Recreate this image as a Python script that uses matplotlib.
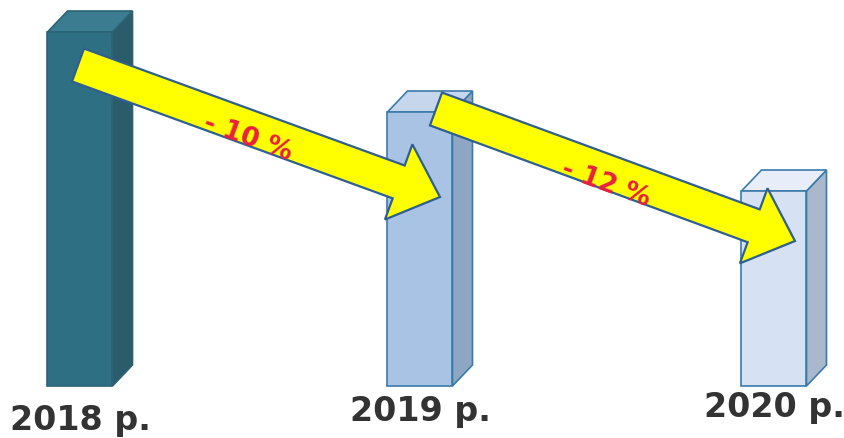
import matplotlib
matplotlib.use("Agg")
import matplotlib.pyplot as plt
from matplotlib.patches import Polygon, FancyArrow

# data (bar heights in px-like units, baseline at 0)
years = ["2018 p.", "2019 p.", "2020 p."]
values = [354, 274, 195]
changes = ["- 10 %", "- 12 %"]

positions = [80, 420, 774]
bar_width = 65
depth = (20, 21)  # oblique offset of the 3D box

front_colors = ["#2f6f84", "#a9c3e4", "#d6e2f4"]
side_colors = ["#2a5c6c", "#8da6c3", "#a9b8cb"]
top_colors = ["#3c7c90", "#c5d6ed", "#e7eef9"]
edge_colors = ["#2a6376", "#3b7bab", "#3b7bab"]

fig = plt.figure(figsize=(8.45, 4.39), dpi=100)
ax = fig.add_axes([0, 0, 1, 1])
ax.set_xlim(0, 845)
ax.set_ylim(-52, 387)
ax.axis("off")

bars = ax.bar(positions, values, width=bar_width, color=front_colors,
              edgecolor=edge_colors, linewidth=1.2, zorder=3)

dx, dy = depth
for b, sc, tc, ec in zip(bars, side_colors, top_colors, edge_colors):
    x0, w, h = b.get_x(), b.get_width(), b.get_height()
    x1 = x0 + w
    side = Polygon([(x1, 0), (x1 + dx, dy), (x1 + dx, h + dy), (x1, h)],
                   closed=True, fc=sc, ec=ec, lw=1.2, zorder=2)
    top = Polygon([(x0, h), (x0 + dx, h + dy), (x1 + dx, h + dy), (x1, h)],
                  closed=True, fc=tc, ec=ec, lw=1.2, zorder=2)
    ax.add_patch(side)
    ax.add_patch(top)

# year labels under the bars
label_y = [-34, -25, -21]
for x, lab, ly in zip(positions, years, label_y):
    ax.text(x, ly, lab, ha="center", va="center", fontsize=24,
            fontweight="bold", color="#333333", family="DejaVu Sans")

# yellow arrows between bars
arrows = [((78, 321), (440, 189)), ((436, 277), (795, 145))]
text_pos = [(248, 249), (606, 203)]
for (p0, p1), lab, tp in zip(arrows, changes, text_pos):
    arr = FancyArrow(p0[0], p0[1], p1[0] - p0[0], p1[1] - p0[1], width=35,
                     head_width=80, head_length=44, length_includes_head=True,
                     fc="#ffff00", ec="#2f5f90", lw=1.6, zorder=5)
    ax.add_patch(arr)
    ax.text(tp[0], tp[1], lab, ha="center", va="center", fontsize=19,
            fontweight="bold", color="#e8203f", rotation=-20, zorder=6)

fig.savefig("out.png", dpi=100, facecolor="white")
